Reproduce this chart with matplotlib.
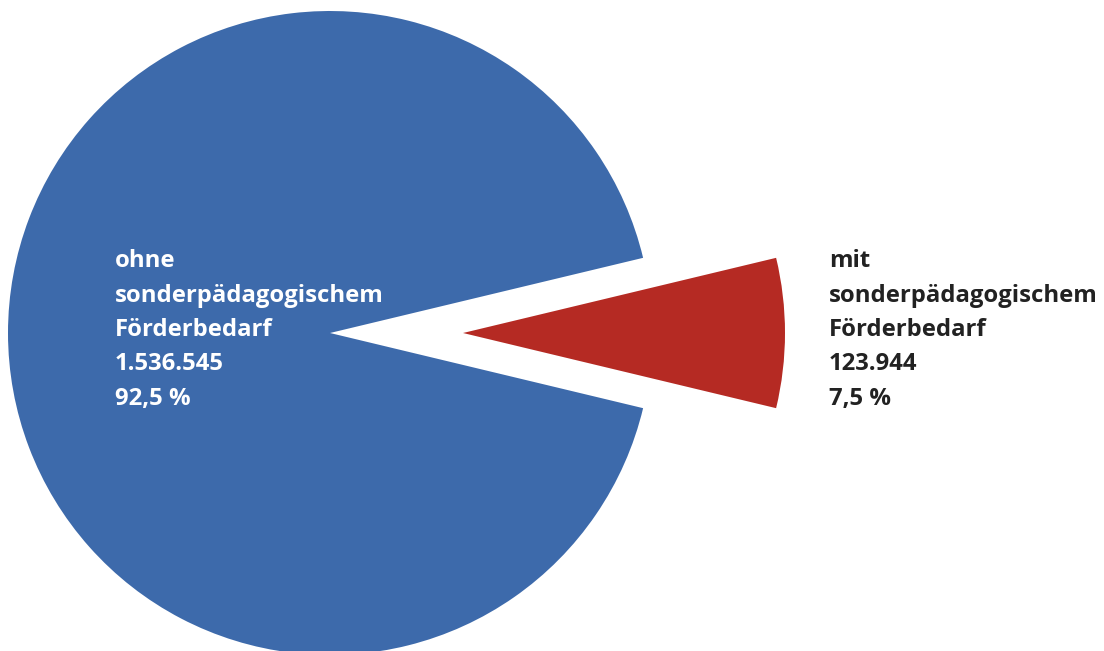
import matplotlib.pyplot as plt

# data
labels = ["ohne sonderpädagogischem Förderbedarf", "mit sonderpädagogischem Förderbedarf"]
counts = [1536545, 123944]
shares = [92.5, 7.5]
count_labels = ["1.536.545", "123.944"]
share_labels = ["92,5 %", "7,5 %"]
colors = ["#3D6AAB", "#B52A23"]

W, H = 1104, 651
fig = plt.figure(figsize=(W / 100, H / 100), dpi=100)
ax = fig.add_axes([0, 0, 1, 1])

radius = 322
cx, cy = 330, H - 333
start = shares[1] / 100 * 360 / 2  # keep red slice centred on the horizontal
# explode offset is in data units here (pixels)
ax.pie(shares, colors=colors, radius=radius, center=(cx, cy),
       explode=[0, 133], startangle=start, counterclock=True,
       wedgeprops=dict(linewidth=0), frame=True)

ax.set_xlim(0, W)
ax.set_ylim(0, H)
ax.set_aspect("equal")
ax.axis("off")

# label blocks
line_y = [261, 296, 330, 364, 399]
blocks = [
    (115, "white", ["ohne", "sonderpädagogischem", "Förderbedarf", count_labels[0], share_labels[0]]),
    (829, "#222222", ["mit", "sonderpädagogischem", "Förderbedarf", count_labels[1], share_labels[1]]),
]
for x, col, lines in blocks:
    for y, txt in zip(line_y, lines):
        ax.text(x, H - y, txt, color=col, fontsize=17.2, fontweight="bold",
                family="Open Sans", ha="left", va="center")

fig.savefig("out.png", dpi=100)
